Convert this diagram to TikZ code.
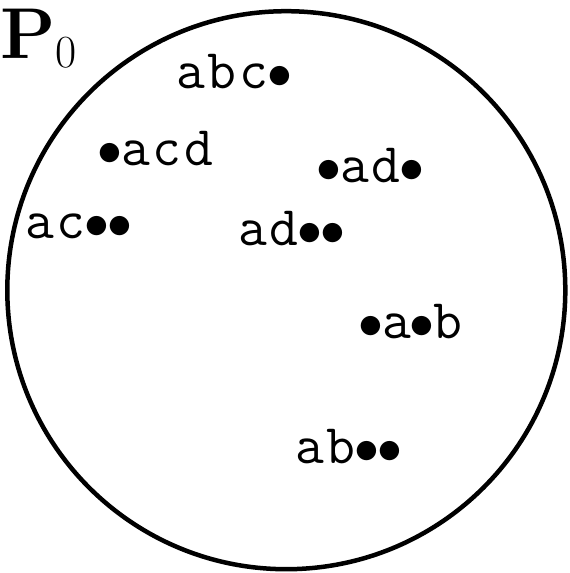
\documentclass[tikz,border=0pt]{standalone}
\usepackage{fontspec}
\newfontfamily\lmtt[LetterSpace=5]{Latin Modern Mono}
\newcommand\bt{{\fontsize{23}{23}\selectfont\kern-0.5pt$\bullet$\kern-0.5pt}}

\begin{document}
\begin{tikzpicture}[x=0.5pt, y=-0.5pt, line width=2.25pt,
  lab/.style={anchor=base west, inner sep=0pt, font=\fontsize{28}{30}\lmtt}]
  \useasboundingbox (0,0) rectangle (569,573);
  % the set P_0
  \coordinate (O) at (286.3,290.2);
  \draw (O) circle [radius=139.5pt];
  \node[anchor=base west, inner sep=0pt, font=\fontsize{36}{38}\selectfont\bfseries] (P) at (-2,58)
    {P\raisebox{-5pt}{\fontsize{23}{24}\selectfont\mdseries 0}};
  % words in P_0
  \node[lab] (abc) at (174,88) {abc\bt};
  \node[lab] (acd) at (96,165) {\bt acd};
  \node[lab] (ad1) at (315,182) {\bt ad\bt};
  \node[lab] (ac) at (23,238) {ac\bt\bt};
  \node[lab] (ad2) at (236,245) {ad\bt\bt};
  \node[lab] (ab1) at (357,338) {\bt a\bt b};
  \node[lab] (ab2) at (293,463) {ab\bt\bt};
\end{tikzpicture}
\end{document}
